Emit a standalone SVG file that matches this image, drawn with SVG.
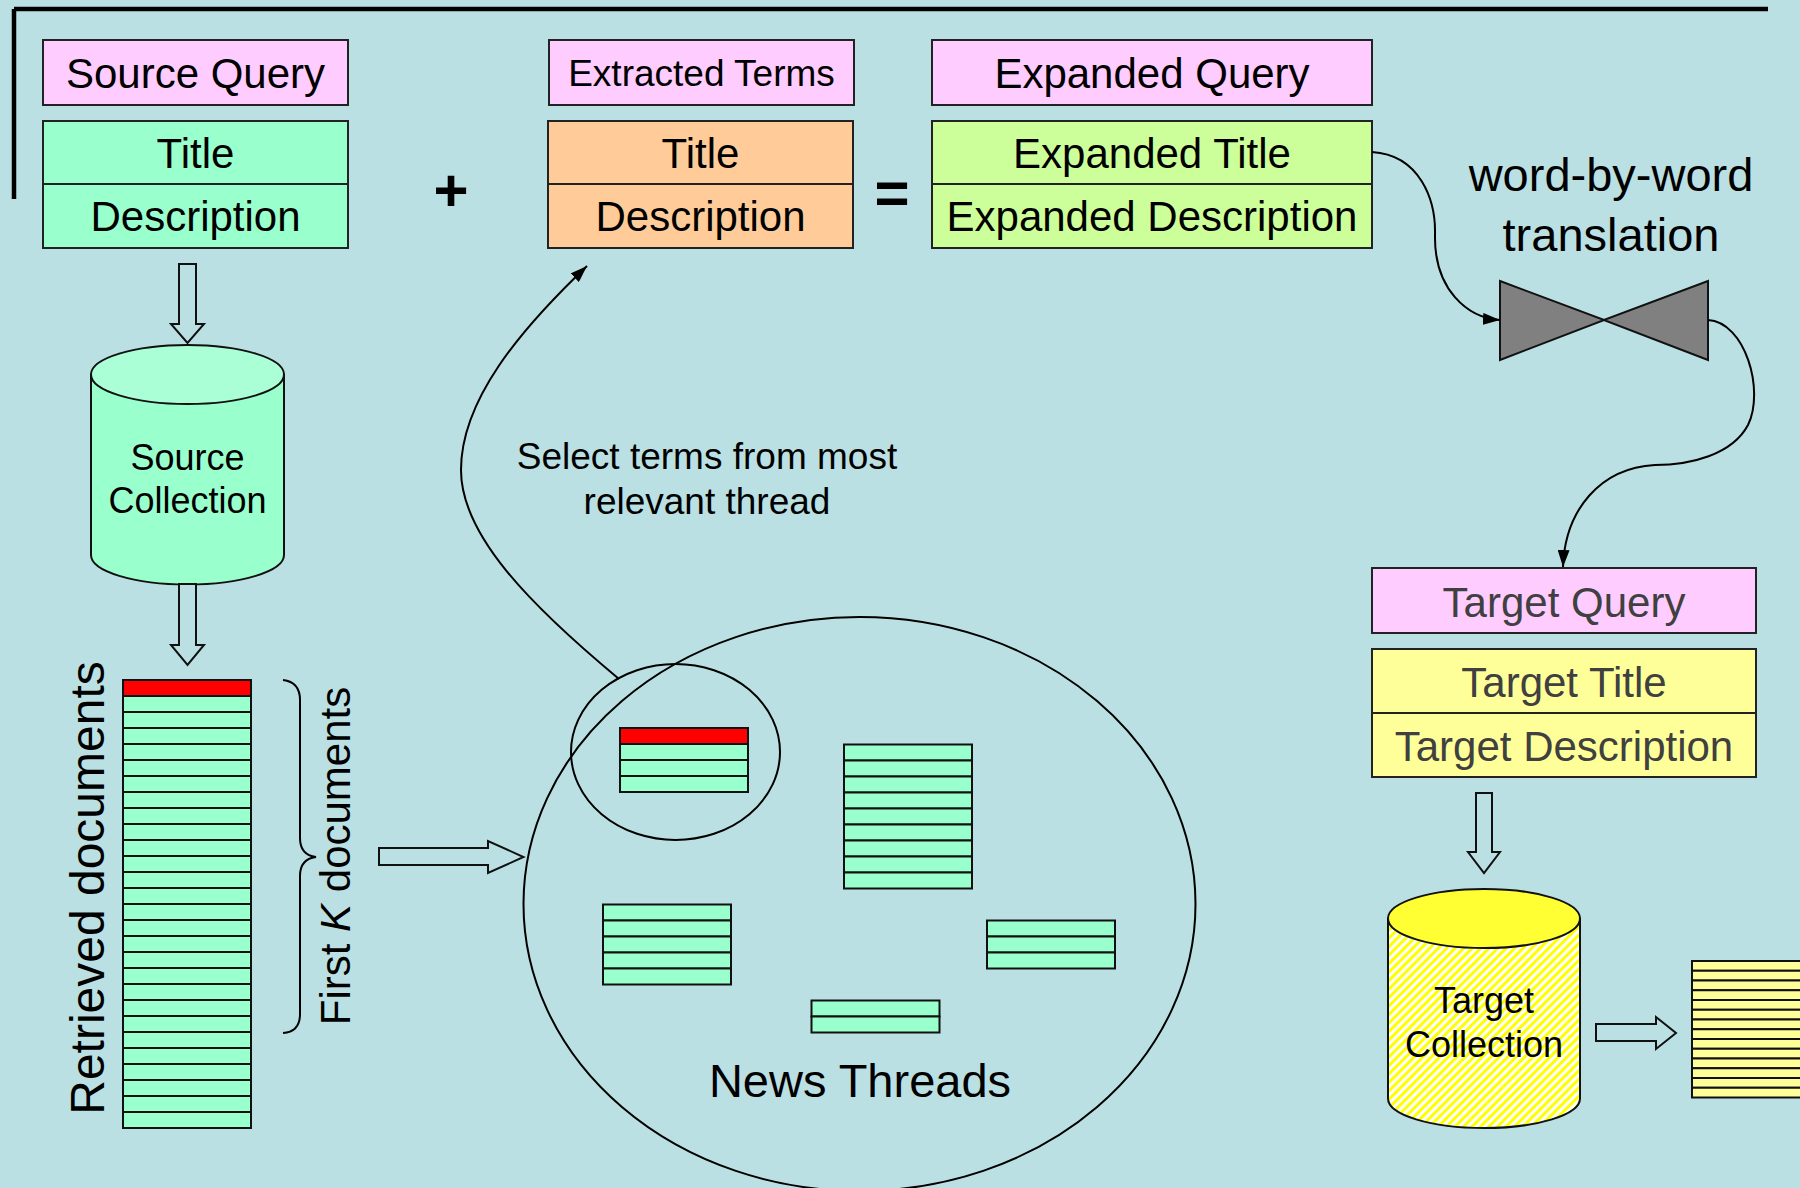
<svg xmlns="http://www.w3.org/2000/svg" width="1800" height="1188" viewBox="0 0 1800 1188">
<style>
text{font-family:"Liberation Sans",Arial,sans-serif;fill:#000}
.box{stroke:#222;stroke-width:2}
.pink{fill:#FFCCFF}
.mint{fill:#99FFCC}
.orange{fill:#FFCC99}
.lime{fill:#CCFF99}
.yel{fill:#FFFF99}
.f42{font-size:42px;text-anchor:middle}
.tg{fill:#404040}
.row{stroke:#111;stroke-width:2}
.red{fill:#FF0000}
.hollow{fill:#BBE0E3;stroke:#111;stroke-width:2}
.conn{fill:none;stroke:#000;stroke-width:2}
</style>
<defs>
<marker id="ah" markerUnits="userSpaceOnUse" markerWidth="18" markerHeight="12" refX="17" refY="6" orient="auto">
<path d="M0,0 L17,6 L0,12 z" fill="#000"/>
</marker>
<pattern id="hatch" width="6" height="6" patternUnits="userSpaceOnUse" patternTransform="rotate(45)">
<rect width="6" height="6" fill="#FFFFFF"/>
<rect width="3" height="6" fill="#FFFF00"/>
</pattern>
</defs>
<rect x="0" y="0" width="1800" height="1188" fill="#BBE0E3"/>
<path d="M14,9 L1768,9 M14,9 L14,199" fill="none" stroke="#000" stroke-width="4.5"/>

<g id="source-query">
<rect class="box pink" x="43" y="40" width="305" height="65"/>
<text class="f42" x="195.5" y="88">Source Query</text>
</g>
<g id="source-fields">
<rect class="box mint" x="43" y="121" width="305" height="127"/>
<line class="box" x1="43" y1="184" x2="348" y2="184"/>
<text class="f42" x="195.5" y="168">Title</text>
<text class="f42" x="195.5" y="231">Description</text>
</g>
<g id="plus"><text x="451" y="211" font-size="60" font-weight="bold" text-anchor="middle">+</text></g>
<g id="extracted-terms">
<rect class="box pink" x="549" y="40" width="305" height="65"/>
<text x="701.5" y="86" font-size="37" text-anchor="middle">Extracted Terms</text>
</g>
<g id="extracted-fields">
<rect class="box orange" x="548" y="121" width="305" height="127"/>
<line class="box" x1="548" y1="184" x2="853" y2="184"/>
<text class="f42" x="700.5" y="168">Title</text>
<text class="f42" x="700.5" y="231">Description</text>
</g>
<g id="equals"><text x="892" y="213" font-size="60" font-weight="bold" text-anchor="middle">=</text></g>
<g id="expanded-query">
<rect class="box pink" x="932" y="40" width="440" height="65"/>
<text class="f42" x="1152" y="88">Expanded Query</text>
</g>
<g id="expanded-fields">
<rect class="box lime" x="932" y="121" width="440" height="127"/>
<line class="box" x1="932" y1="184" x2="1372" y2="184"/>
<text class="f42" x="1152" y="168">Expanded Title</text>
<text class="f42" x="1152" y="231">Expanded Description</text>
</g>
<g id="translation-label">
<text x="1611" y="191" font-size="47" text-anchor="middle">word-by-word</text>
<text x="1611" y="251" font-size="47" text-anchor="middle">translation</text>
</g>
<g id="bowtie">
<polygon points="1500,281 1604,320 1708,281 1708,360 1604,320 1500,360" fill="#808080" stroke="#111" stroke-width="2"/>
</g>
<g id="target-query">
<rect class="box pink" x="1372" y="568" width="384" height="65"/>
<text class="f42 tg" x="1564" y="617">Target Query</text>
</g>
<g id="target-fields">
<rect class="box" fill="#FFFF99" x="1372" y="649" width="384" height="128"/>
<line class="box" x1="1372" y1="713" x2="1756" y2="713"/>
<text class="f42 tg" x="1564" y="697">Target Title</text>
<text class="f42 tg" x="1564" y="761">Target Description</text>
</g>

<g id="source-collection">
<path d="M91,374.5 L91,555 A96.5,29.5 0 0 0 284,555 L284,374.5 z" fill="#99FFCC" stroke="#111" stroke-width="2"/>
<ellipse cx="187.5" cy="374.5" rx="96.5" ry="29.5" fill="#AAFFD6" stroke="#111" stroke-width="2"/>
<text x="187.5" y="470" font-size="36" text-anchor="middle">Source</text>
<text x="187.5" y="513" font-size="36" text-anchor="middle">Collection</text>
</g>

<g id="retrieved-documents">
<rect class="row red" x="123" y="680" width="128" height="16"/>
<rect class="row mint" x="123" y="696" width="128" height="16"/>
<rect class="row mint" x="123" y="712" width="128" height="16"/>
<rect class="row mint" x="123" y="728" width="128" height="16"/>
<rect class="row mint" x="123" y="744" width="128" height="16"/>
<rect class="row mint" x="123" y="760" width="128" height="16"/>
<rect class="row mint" x="123" y="776" width="128" height="16"/>
<rect class="row mint" x="123" y="792" width="128" height="16"/>
<rect class="row mint" x="123" y="808" width="128" height="16"/>
<rect class="row mint" x="123" y="824" width="128" height="16"/>
<rect class="row mint" x="123" y="840" width="128" height="16"/>
<rect class="row mint" x="123" y="856" width="128" height="16"/>
<rect class="row mint" x="123" y="872" width="128" height="16"/>
<rect class="row mint" x="123" y="888" width="128" height="16"/>
<rect class="row mint" x="123" y="904" width="128" height="16"/>
<rect class="row mint" x="123" y="920" width="128" height="16"/>
<rect class="row mint" x="123" y="936" width="128" height="16"/>
<rect class="row mint" x="123" y="952" width="128" height="16"/>
<rect class="row mint" x="123" y="968" width="128" height="16"/>
<rect class="row mint" x="123" y="984" width="128" height="16"/>
<rect class="row mint" x="123" y="1000" width="128" height="16"/>
<rect class="row mint" x="123" y="1016" width="128" height="16"/>
<rect class="row mint" x="123" y="1032" width="128" height="16"/>
<rect class="row mint" x="123" y="1048" width="128" height="16"/>
<rect class="row mint" x="123" y="1064" width="128" height="16"/>
<rect class="row mint" x="123" y="1080" width="128" height="16"/>
<rect class="row mint" x="123" y="1096" width="128" height="16"/>
<rect class="row mint" x="123" y="1112" width="128" height="16"/>
<text transform="translate(104,888) rotate(-90)" font-size="48" text-anchor="middle">Retrieved documents</text>
</g>
<g id="first-k">
<path d="M283,680 Q300,682 300,700 L300,838 Q300,855 316,857 Q300,859 300,876 L300,1014 Q300,1032 283,1033" fill="none" stroke="#000" stroke-width="2"/>
<text transform="translate(350,856) rotate(-90)" font-size="42" text-anchor="middle">First <tspan font-style="italic">K</tspan> documents</text>
</g>

<g id="news-threads">
<ellipse cx="859.5" cy="904" rx="336" ry="287" fill="none" stroke="#000" stroke-width="2"/>
<text x="860" y="1097" font-size="47" text-anchor="middle">News Threads</text>
</g>
<g id="thread-1">
<rect class="row red" x="620" y="728" width="128" height="16"/>
<rect class="row mint" x="620" y="744" width="128" height="16"/>
<rect class="row mint" x="620" y="760" width="128" height="16"/>
<rect class="row mint" x="620" y="776" width="128" height="16"/>
</g>
<g id="most-relevant">
<ellipse cx="675.5" cy="752" rx="104.5" ry="88" fill="none" stroke="#000" stroke-width="2"/>
</g>
<g id="thread-2">
<rect class="row mint" x="844" y="744.5" width="128" height="16"/>
<rect class="row mint" x="844" y="760.5" width="128" height="16"/>
<rect class="row mint" x="844" y="776.5" width="128" height="16"/>
<rect class="row mint" x="844" y="792.5" width="128" height="16"/>
<rect class="row mint" x="844" y="808.5" width="128" height="16"/>
<rect class="row mint" x="844" y="824.5" width="128" height="16"/>
<rect class="row mint" x="844" y="840.5" width="128" height="16"/>
<rect class="row mint" x="844" y="856.5" width="128" height="16"/>
<rect class="row mint" x="844" y="872.5" width="128" height="16"/>
</g>
<g id="thread-3">
<rect class="row mint" x="603" y="904.5" width="128" height="16"/>
<rect class="row mint" x="603" y="920.5" width="128" height="16"/>
<rect class="row mint" x="603" y="936.5" width="128" height="16"/>
<rect class="row mint" x="603" y="952.5" width="128" height="16"/>
<rect class="row mint" x="603" y="968.5" width="128" height="16"/>
</g>
<g id="thread-4">
<rect class="row mint" x="987" y="920.5" width="128" height="16"/>
<rect class="row mint" x="987" y="936.5" width="128" height="16"/>
<rect class="row mint" x="987" y="952.5" width="128" height="16"/>
</g>
<g id="thread-5">
<rect class="row mint" x="811.5" y="1000.5" width="128" height="16"/>
<rect class="row mint" x="811.5" y="1016.5" width="128" height="16"/>
</g>
<g id="select-label">
<text x="707" y="469" font-size="37" text-anchor="middle">Select terms from most</text>
<text x="707" y="514" font-size="37" text-anchor="middle">relevant thread</text>
</g>

<g id="target-collection">
<path d="M1388,918.5 L1388,1098.5 A96,29.5 0 0 0 1580,1098.5 L1580,918.5 z" fill="url(#hatch)" stroke="#111" stroke-width="2"/>
<ellipse cx="1484" cy="918.5" rx="96" ry="29.5" fill="#FFFF33" stroke="#111" stroke-width="2"/>
<text x="1484" y="1013" font-size="36" text-anchor="middle">Target</text>
<text x="1484" y="1057" font-size="36" text-anchor="middle">Collection</text>
</g>
<g id="target-documents">
<rect class="row yel" x="1692" y="961" width="120" height="9.75"/>
<rect class="row yel" x="1692" y="970.75" width="120" height="9.75"/>
<rect class="row yel" x="1692" y="980.5" width="120" height="9.75"/>
<rect class="row yel" x="1692" y="990.25" width="120" height="9.75"/>
<rect class="row yel" x="1692" y="1000" width="120" height="9.75"/>
<rect class="row yel" x="1692" y="1009.75" width="120" height="9.75"/>
<rect class="row yel" x="1692" y="1019.5" width="120" height="9.75"/>
<rect class="row yel" x="1692" y="1029.25" width="120" height="9.75"/>
<rect class="row yel" x="1692" y="1039" width="120" height="9.75"/>
<rect class="row yel" x="1692" y="1048.75" width="120" height="9.75"/>
<rect class="row yel" x="1692" y="1058.5" width="120" height="9.75"/>
<rect class="row yel" x="1692" y="1068.25" width="120" height="9.75"/>
<rect class="row yel" x="1692" y="1078" width="120" height="9.75"/>
<rect class="row yel" x="1692" y="1087.75" width="120" height="9.75"/>
</g>

<g id="connectors">
<polygon class="hollow" points="179,264 196,264 196,324 204,324 187.5,343 171,324 179,324"/>
<polygon class="hollow" points="179,584 196,584 196,645 204,645 187.5,665 171,645 179,645"/>
<polygon class="hollow" points="379,848 488,848 488,841 523.5,857 488,873 488,865 379,865"/>
<polygon class="hollow" points="1476,793 1492,793 1492,852 1500,852 1484,873 1468,852 1476,852"/>
<polygon class="hollow" points="1596,1024 1656,1024 1656,1017 1676,1033 1656,1049 1656,1041 1596,1041"/>
<path class="conn" d="M619,679 C530,605 461,535 461,470 C461,400 520,330 587,266" marker-end="url(#ah)"/>
<path class="conn" d="M1372,152 C1420,155 1436,200 1435,235 C1434,290 1468,318 1500,320" marker-end="url(#ah)"/>
<path class="conn" d="M1708,320 C1745,322 1765,390 1748,425 C1732,455 1690,465 1655,465 C1600,468 1565,510 1563,567" marker-end="url(#ah)"/>
</g>
</svg>
